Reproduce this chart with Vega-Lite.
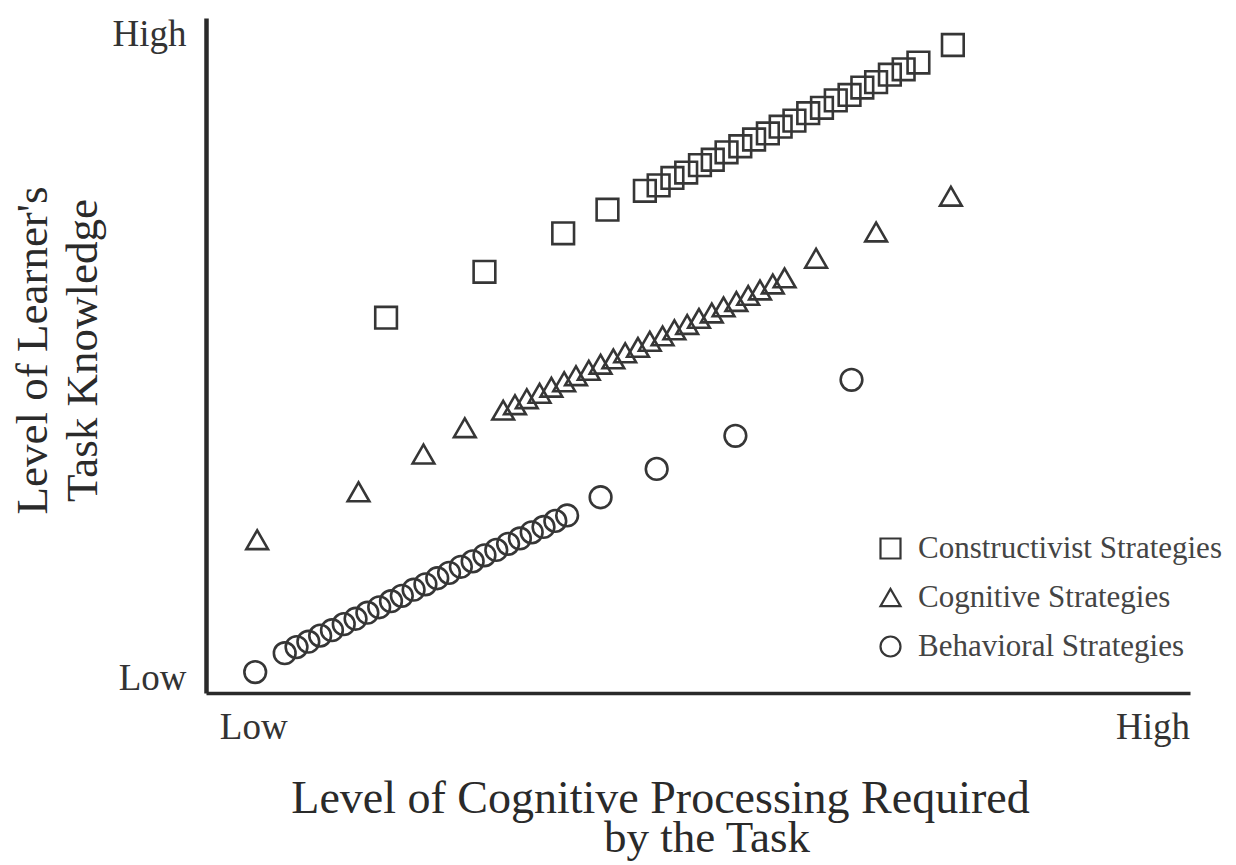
{
  "$schema": "https://vega.github.io/schema/vega-lite/v6.json",
  "width": 984,
  "height": 675,
  "autosize": {"type": "none"},
  "padding": {"left": 206, "top": 18, "right": 46, "bottom": 172},
  "background": "white",
  "title": {
    "text": "by the Task",
    "orient": "bottom",
    "anchor": "middle",
    "frame": "group",
    "dx": 9,
    "offset": -5,
    "font": "Liberation Serif",
    "fontSize": 45,
    "fontWeight": "normal",
    "color": "#2a2a2a",
    "baseline": "top"
  },
  "config": {
    "view": {"stroke": null},
    "font": "Liberation Serif"
  },
  "data": {
    "values": [
      {"strategy": "Constructivist Strategies", "processing": 18.3, "knowledge": 55.6},
      {"strategy": "Constructivist Strategies", "processing": 28.3, "knowledge": 62.4},
      {"strategy": "Constructivist Strategies", "processing": 36.3, "knowledge": 68.1},
      {"strategy": "Constructivist Strategies", "processing": 40.8, "knowledge": 71.6},
      {"strategy": "Constructivist Strategies", "processing": 44.6, "knowledge": 74.4},
      {"strategy": "Constructivist Strategies", "processing": 46.0, "knowledge": 75.2},
      {"strategy": "Constructivist Strategies", "processing": 47.4, "knowledge": 76.3},
      {"strategy": "Constructivist Strategies", "processing": 48.8, "knowledge": 77.1},
      {"strategy": "Constructivist Strategies", "processing": 50.2, "knowledge": 78.2},
      {"strategy": "Constructivist Strategies", "processing": 51.5, "knowledge": 79.0},
      {"strategy": "Constructivist Strategies", "processing": 52.9, "knowledge": 80.1},
      {"strategy": "Constructivist Strategies", "processing": 54.3, "knowledge": 81.0},
      {"strategy": "Constructivist Strategies", "processing": 55.7, "knowledge": 82.0},
      {"strategy": "Constructivist Strategies", "processing": 57.1, "knowledge": 82.9},
      {"strategy": "Constructivist Strategies", "processing": 58.4, "knowledge": 83.9},
      {"strategy": "Constructivist Strategies", "processing": 59.8, "knowledge": 84.8},
      {"strategy": "Constructivist Strategies", "processing": 61.2, "knowledge": 85.9},
      {"strategy": "Constructivist Strategies", "processing": 62.6, "knowledge": 86.7},
      {"strategy": "Constructivist Strategies", "processing": 64.0, "knowledge": 87.8},
      {"strategy": "Constructivist Strategies", "processing": 65.4, "knowledge": 88.6},
      {"strategy": "Constructivist Strategies", "processing": 66.7, "knowledge": 89.7},
      {"strategy": "Constructivist Strategies", "processing": 68.1, "knowledge": 90.5},
      {"strategy": "Constructivist Strategies", "processing": 69.5, "knowledge": 91.6},
      {"strategy": "Constructivist Strategies", "processing": 70.9, "knowledge": 92.4},
      {"strategy": "Constructivist Strategies", "processing": 72.4, "knowledge": 93.4},
      {"strategy": "Constructivist Strategies", "processing": 75.9, "knowledge": 96.0},
      {"strategy": "Cognitive Strategies", "processing": 5.2, "knowledge": 22.7},
      {"strategy": "Cognitive Strategies", "processing": 15.5, "knowledge": 29.8},
      {"strategy": "Cognitive Strategies", "processing": 22.1, "knowledge": 35.4},
      {"strategy": "Cognitive Strategies", "processing": 26.3, "knowledge": 39.3},
      {"strategy": "Cognitive Strategies", "processing": 30.2, "knowledge": 41.9},
      {"strategy": "Cognitive Strategies", "processing": 31.4, "knowledge": 42.7},
      {"strategy": "Cognitive Strategies", "processing": 32.6, "knowledge": 43.6},
      {"strategy": "Cognitive Strategies", "processing": 33.9, "knowledge": 44.4},
      {"strategy": "Cognitive Strategies", "processing": 35.1, "knowledge": 45.3},
      {"strategy": "Cognitive Strategies", "processing": 36.4, "knowledge": 46.1},
      {"strategy": "Cognitive Strategies", "processing": 37.6, "knowledge": 47.0},
      {"strategy": "Cognitive Strategies", "processing": 38.9, "knowledge": 47.8},
      {"strategy": "Cognitive Strategies", "processing": 40.1, "knowledge": 48.7},
      {"strategy": "Cognitive Strategies", "processing": 41.4, "knowledge": 49.5},
      {"strategy": "Cognitive Strategies", "processing": 42.6, "knowledge": 50.4},
      {"strategy": "Cognitive Strategies", "processing": 43.9, "knowledge": 51.2},
      {"strategy": "Cognitive Strategies", "processing": 45.1, "knowledge": 52.1},
      {"strategy": "Cognitive Strategies", "processing": 46.4, "knowledge": 52.9},
      {"strategy": "Cognitive Strategies", "processing": 47.6, "knowledge": 53.8},
      {"strategy": "Cognitive Strategies", "processing": 48.9, "knowledge": 54.6},
      {"strategy": "Cognitive Strategies", "processing": 50.1, "knowledge": 55.5},
      {"strategy": "Cognitive Strategies", "processing": 51.4, "knowledge": 56.3},
      {"strategy": "Cognitive Strategies", "processing": 52.6, "knowledge": 57.2},
      {"strategy": "Cognitive Strategies", "processing": 53.9, "knowledge": 58.0},
      {"strategy": "Cognitive Strategies", "processing": 55.1, "knowledge": 58.9},
      {"strategy": "Cognitive Strategies", "processing": 56.3, "knowledge": 59.7},
      {"strategy": "Cognitive Strategies", "processing": 57.6, "knowledge": 60.6},
      {"strategy": "Cognitive Strategies", "processing": 58.8, "knowledge": 61.5},
      {"strategy": "Cognitive Strategies", "processing": 62.0, "knowledge": 64.4},
      {"strategy": "Cognitive Strategies", "processing": 68.1, "knowledge": 68.3},
      {"strategy": "Cognitive Strategies", "processing": 75.7, "knowledge": 73.6},
      {"strategy": "Behavioral Strategies", "processing": 5.0, "knowledge": 3.1},
      {"strategy": "Behavioral Strategies", "processing": 8.0, "knowledge": 5.9},
      {"strategy": "Behavioral Strategies", "processing": 9.2, "knowledge": 6.8},
      {"strategy": "Behavioral Strategies", "processing": 10.4, "knowledge": 7.6},
      {"strategy": "Behavioral Strategies", "processing": 11.6, "knowledge": 8.5},
      {"strategy": "Behavioral Strategies", "processing": 12.8, "knowledge": 9.3},
      {"strategy": "Behavioral Strategies", "processing": 14.0, "knowledge": 10.2},
      {"strategy": "Behavioral Strategies", "processing": 15.2, "knowledge": 11.0},
      {"strategy": "Behavioral Strategies", "processing": 16.4, "knowledge": 11.9},
      {"strategy": "Behavioral Strategies", "processing": 17.6, "knowledge": 12.7},
      {"strategy": "Behavioral Strategies", "processing": 18.8, "knowledge": 13.6},
      {"strategy": "Behavioral Strategies", "processing": 19.9, "knowledge": 14.4},
      {"strategy": "Behavioral Strategies", "processing": 21.1, "knowledge": 15.3},
      {"strategy": "Behavioral Strategies", "processing": 22.3, "knowledge": 16.1},
      {"strategy": "Behavioral Strategies", "processing": 23.5, "knowledge": 17.0},
      {"strategy": "Behavioral Strategies", "processing": 24.7, "knowledge": 17.8},
      {"strategy": "Behavioral Strategies", "processing": 25.9, "knowledge": 18.7},
      {"strategy": "Behavioral Strategies", "processing": 27.1, "knowledge": 19.5},
      {"strategy": "Behavioral Strategies", "processing": 28.3, "knowledge": 20.4},
      {"strategy": "Behavioral Strategies", "processing": 29.5, "knowledge": 21.2},
      {"strategy": "Behavioral Strategies", "processing": 30.7, "knowledge": 22.1},
      {"strategy": "Behavioral Strategies", "processing": 31.9, "knowledge": 22.9},
      {"strategy": "Behavioral Strategies", "processing": 33.1, "knowledge": 23.8},
      {"strategy": "Behavioral Strategies", "processing": 34.3, "knowledge": 24.6},
      {"strategy": "Behavioral Strategies", "processing": 35.5, "knowledge": 25.5},
      {"strategy": "Behavioral Strategies", "processing": 36.7, "knowledge": 26.3},
      {"strategy": "Behavioral Strategies", "processing": 40.1, "knowledge": 29.0},
      {"strategy": "Behavioral Strategies", "processing": 45.8, "knowledge": 33.2},
      {"strategy": "Behavioral Strategies", "processing": 53.8, "knowledge": 38.1},
      {"strategy": "Behavioral Strategies", "processing": 65.6, "knowledge": 46.4}
    ]
  },
  "mark": {
    "type": "point",
    "filled": false,
    "color": "#363636",
    "strokeWidth": 2.6,
    "size": 470,
    "opacity": 1
  },
  "encoding": {
    "x": {
      "field": "processing",
      "type": "quantitative",
      "scale": {"domain": [0, 100], "nice": false, "zero": false},
      "axis": {
        "title": "Level of Cognitive Processing Required",
        "titleFont": "Liberation Serif",
        "titleFontSize": 46,
        "titleFontWeight": "normal",
        "titleColor": "#2a2a2a",
        "titleX": 454,
        "titleY": 119,
        "titleAlign": "center",
        "titleBaseline": "alphabetic",
        "values": [4.8, 96.2],
        "labelExpr": "datum.value < 50 ? 'Low' : 'High'",
        "labelFont": "Liberation Serif",
        "labelFontSize": 37,
        "labelColor": "#333333",
        "labelPadding": 16,
        "labelFlush": false,
        "labelOverlap": false,
        "ticks": false,
        "tickSize": 0,
        "grid": false,
        "domainColor": "#2a2a2a",
        "domainWidth": 3.5
      }
    },
    "y": {
      "field": "knowledge",
      "type": "quantitative",
      "scale": {"domain": [0, 100], "nice": false, "zero": false},
      "axis": {
        "title": ["Level of Learner's", "Task Knowledge"],
        "titleFont": "Liberation Serif",
        "titleFontSize": 45,
        "titleFontWeight": "normal",
        "titleColor": "#2a2a2a",
        "titleLineHeight": 50,
        "titleAngle": -90,
        "titleX": -174,
        "titleY": 332,
        "titleAlign": "center",
        "titleBaseline": "middle",
        "values": [2.2, 97.5],
        "labelExpr": "datum.value < 50 ? 'Low' : 'High'",
        "labelFont": "Liberation Serif",
        "labelFontSize": 37,
        "labelColor": "#333333",
        "labelPadding": 20,
        "labelFlush": false,
        "labelOverlap": false,
        "ticks": false,
        "tickSize": 0,
        "grid": false,
        "domainColor": "#2a2a2a",
        "domainWidth": 4.5
      }
    },
    "shape": {
      "field": "strategy",
      "type": "nominal",
      "scale": {
        "domain": ["Constructivist Strategies", "Cognitive Strategies", "Behavioral Strategies"],
        "range": ["square", "triangle-up", "circle"]
      },
      "legend": {
        "title": null,
        "orient": "none",
        "legendX": 669,
        "legendY": 515,
        "padding": 0,
        "symbolSize": 400,
        "symbolStrokeWidth": 2.2,
        "symbolStrokeColor": "#363636",
        "symbolFillColor": "transparent",
        "labelFont": "Liberation Serif",
        "labelFontSize": 31,
        "labelColor": "#444444",
        "labelOffset": 12,
        "rowPadding": 17,
        "labelLimit": 400
      }
    }
  }
}
